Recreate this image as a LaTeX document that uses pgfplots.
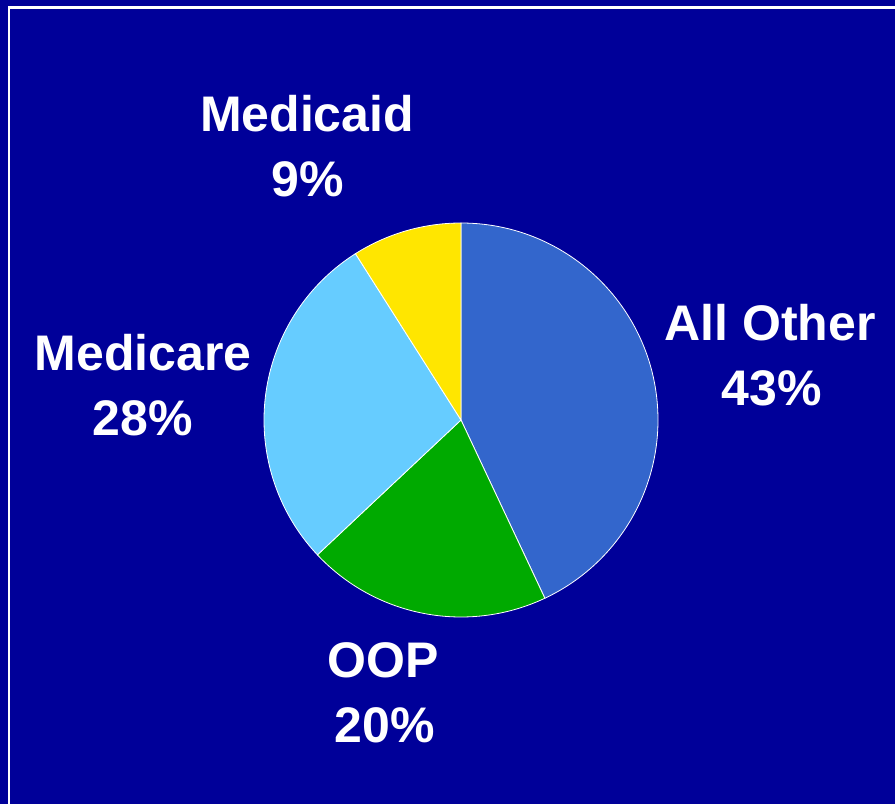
\documentclass[border=0pt]{standalone}
\usepackage{pgfplots}
\usepackage{pgfplotstable}
\pgfplotsset{compat=1.18}
\usepackage{fontspec}
\setmainfont{Liberation Sans}
\definecolor{bgblue}{HTML}{000099}
\definecolor{cOther}{HTML}{3366CC}
\definecolor{cOOP}{HTML}{00AA00}
\definecolor{cMedicare}{HTML}{66CCFF}
\definecolor{cMedicaid}{HTML}{FFE600}

\pgfplotstableread{
share
43
20
28
9
}\piedata
\pgfplotstablegetelem{0}{share}\of\piedata\edef\sA{\pgfplotsretval}
\pgfplotstablegetelem{1}{share}\of\piedata\edef\sB{\pgfplotsretval}
\pgfplotstablegetelem{2}{share}\of\piedata\edef\sC{\pgfplotsretval}
\pgfplotstablegetelem{3}{share}\of\piedata\edef\sD{\pgfplotsretval}
\pgfmathsetmacro\aA{90}
\pgfmathsetmacro\aB{\aA-3.6*\sA}
\pgfmathsetmacro\aC{\aB-3.6*\sB}
\pgfmathsetmacro\aD{\aC-3.6*\sC}
\pgfmathsetmacro\aE{\aD-3.6*\sD}

\begin{document}
\begin{tikzpicture}
\begin{axis}[
  width=895pt, height=804pt, scale only axis,
  xmin=0, xmax=895, ymin=0, ymax=804,
  hide axis, clip=false,
]
\fill[bgblue] (axis cs:0,0) rectangle (axis cs:895,804);
\draw[white, line width=2.6pt] (axis cs:9,0) -- (axis cs:9,796.5) -- (axis cs:895,796.5);
% slices
\fill[cOther, draw=white, line width=0.8pt] (axis cs:461,384) -- ++(\aA:197pt) arc[start angle=\aA, end angle=\aB, radius=197pt] -- cycle;
\fill[cOOP, draw=white, line width=0.8pt] (axis cs:461,384) -- ++(\aB:197pt) arc[start angle=\aB, end angle=\aC, radius=197pt] -- cycle;
\fill[cMedicare, draw=white, line width=0.8pt] (axis cs:461,384) -- ++(\aC:197pt) arc[start angle=\aC, end angle=\aD, radius=197pt] -- cycle;
\fill[cMedicaid, draw=white, line width=0.8pt] (axis cs:461,384) -- ++(\aD:197pt) arc[start angle=\aD, end angle=\aE, radius=197pt] -- cycle;
% labels
\tikzset{lab/.style={anchor=base, text=white, inner sep=0pt, font=\bfseries\fontsize{50}{58}\selectfont}}
\node[lab] at (axis cs:307,672) {Medicaid};
\node[lab] at (axis cs:308,607) {\sD\%};
\node[lab] at (axis cs:770,463) {All Other};
\node[lab] at (axis cs:772,398) {\sA\%};
\node[lab] at (axis cs:143,433) {Medicare};
\node[lab] at (axis cs:143,368) {\sC\%};
\node[lab] at (axis cs:383,126) {OOP};
\node[lab] at (axis cs:385,62) {\sB\%};
\end{axis}
\pgfresetboundingbox
\path (current axis.south west) rectangle (current axis.north east);
\end{tikzpicture}
\end{document}
